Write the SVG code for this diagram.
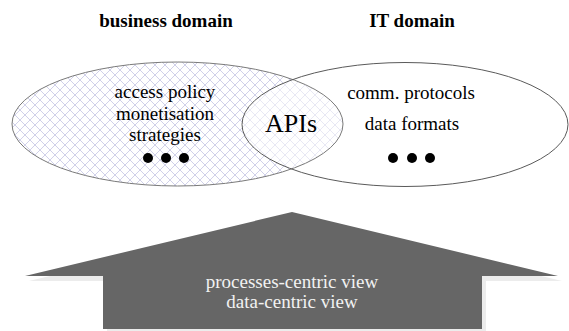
<svg xmlns="http://www.w3.org/2000/svg" width="569" height="331" viewBox="0 0 569 331">
  <defs>
    <pattern id="hatch" patternUnits="userSpaceOnUse" width="10" height="10">
      <rect width="10" height="10" fill="#ffffff"/>
      <path d="M0,0 L10,10 M10,0 L0,10 M-1,9 L1,11 M9,-1 L11,1 M-1,1 L1,-1 M9,11 L11,9" stroke="#cbcbe6" stroke-width="0.9" fill="none"/>
    </pattern>
  </defs>
  <style>
    .serif { font-family: "Liberation Serif", "Times New Roman", serif; }
    .title { font-size: 19px; font-weight: bold; fill: #000; text-anchor: middle; }
    .label { font-size: 19px; fill: #000; text-anchor: middle; }
    .apis { font-size: 26px; fill: #000; text-anchor: middle; }
    .arrowtxt { font-size: 19px; fill: #f2f2f2; text-anchor: middle; }
    .outline { fill: none; stroke-width: 1; }
  </style>
  <rect width="569" height="331" fill="#ffffff"/>

  <text class="serif title" x="166" y="27">business domain</text>
  <text class="serif title" x="412" y="27">IT domain</text>

  <g id="business-domain">
    <ellipse cx="177.5" cy="124" rx="165.5" ry="62" fill="url(#hatch)"/>
  </g>
  <g id="it-domain">
    <ellipse cx="405" cy="124.5" rx="163" ry="62" fill="#ffffff" fill-opacity="0.5"/>
    <ellipse class="outline" cx="177.5" cy="124" rx="165.5" ry="62" stroke="#7a7a7a"/>
    <ellipse class="outline" cx="405" cy="124.5" rx="163" ry="62" stroke="#5a5a5a"/>
  </g>

  <g id="business-labels">
    <text class="serif label" x="165" y="98">access policy</text>
    <text class="serif label" x="165" y="120">monetisation</text>
    <text class="serif label" x="165" y="141">strategies</text>
    <circle cx="148" cy="158" r="5" fill="#000"/>
    <circle cx="166" cy="158" r="5" fill="#000"/>
    <circle cx="184" cy="158" r="5" fill="#000"/>
  </g>

  <g id="it-labels">
    <text class="serif label" x="411" y="99">comm. protocols</text>
    <text class="serif label" x="412" y="130">data formats</text>
    <circle cx="393" cy="158" r="5" fill="#000"/>
    <circle cx="412" cy="158" r="5" fill="#000"/>
    <circle cx="430" cy="158" r="5" fill="#000"/>
  </g>

  <g id="apis">
    <text class="serif apis" x="291" y="132">APIs</text>
  </g>

  <g id="connectors"></g>

  <g id="views-arrow">
    <polygon points="296,217 562,281 486,281 486,334 107,334 107,281 29,281" fill="#ececec"/>
    <polygon points="292,212 558,276 482,276 482,329 103,329 103,276 25,276" fill="#666666"/>
    <text class="serif arrowtxt" x="292" y="288">processes-centric view</text>
    <text class="serif arrowtxt" x="292" y="308">data-centric view</text>
  </g>
</svg>
